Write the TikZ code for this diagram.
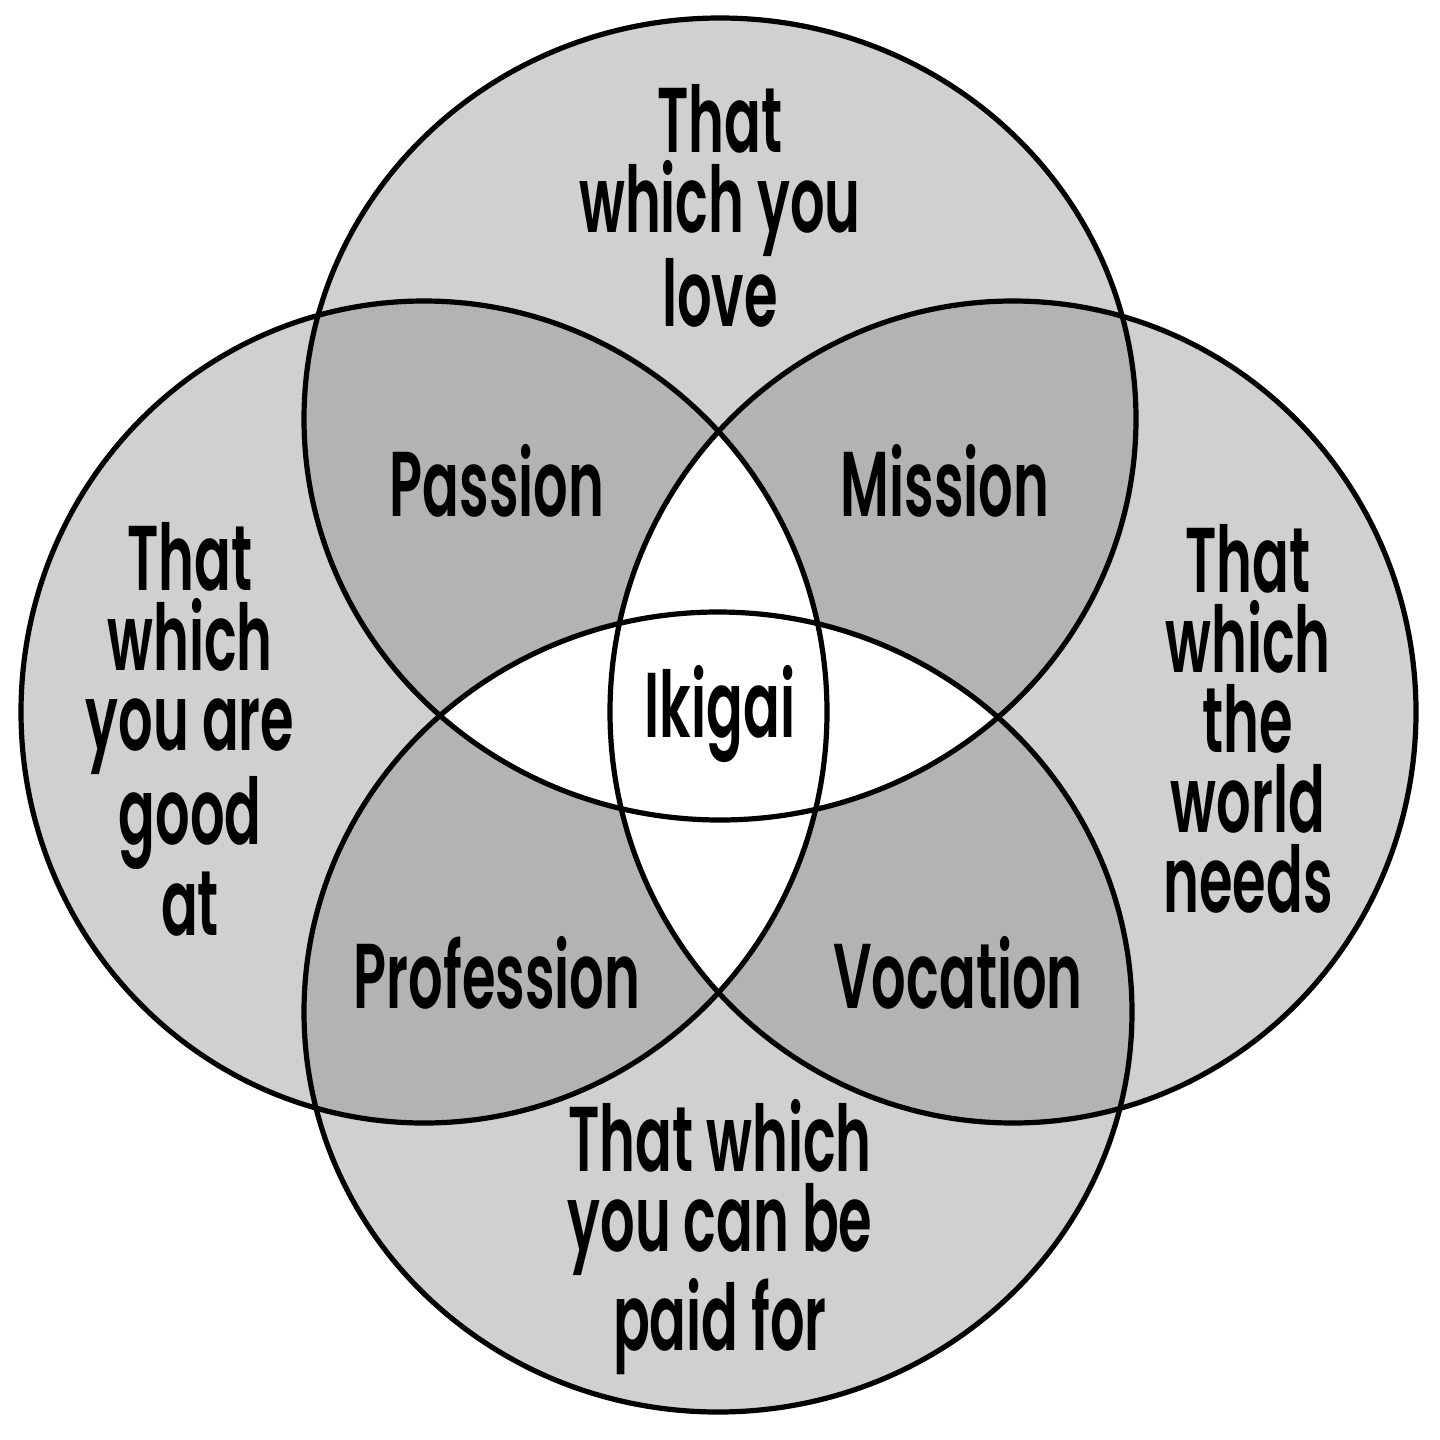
\documentclass[tikz,border=0pt]{standalone}
\usepackage{fontspec}
\newfontfamily\ikf[FakeStretch=0.59,UprightFont=* SemiBold]{Poppins}
\definecolor{lightg}{HTML}{D0D0D0}
\definecolor{darkg}{HTML}{B3B3B3}
\begin{document}
\begin{tikzpicture}[x=0.5pt,y=-0.5pt,
  ring/.style={draw=black,line width=2.6pt},
  lbl/.style={font=\ikf\fontsize{46}{40}\selectfont,align=center,inner sep=0pt,text=black}]
\def\pT{(720,419) ellipse [x radius=416, y radius=401]}
\def\pB{(718,1012) ellipse [x radius=414, y radius=400]}
\def\pL{(424,712) ellipse [x radius=403, y radius=411]}
\def\pR{(1013,712) ellipse [x radius=403, y radius=411]}
\fill[white] (0,0) rectangle (1440,1440);
\useasboundingbox (0,0) rectangle (1440,1440);
% single circles
\fill[lightg] \pT; \fill[lightg] \pB; \fill[lightg] \pL; \fill[lightg] \pR;
% adjacent pairs
\begin{scope}\clip \pT; \fill[darkg] \pL; \end{scope}
\begin{scope}\clip \pT; \fill[darkg] \pR; \end{scope}
\begin{scope}\clip \pB; \fill[darkg] \pL; \end{scope}
\begin{scope}\clip \pB; \fill[darkg] \pR; \end{scope}
% opposite pairs
\begin{scope}\clip \pT; \fill[white] \pB; \end{scope}
\begin{scope}\clip \pL; \fill[white] \pR; \end{scope}
% outlines
\draw[ring] \pT; \draw[ring] \pB; \draw[ring] \pL; \draw[ring] \pR;
% texts
\node[lbl] (love) at (720,206) {That\\which you\\love};
\node[lbl] (good) at (190,729) {That\\which\\you are\\good\\at};
\node[lbl] (needs) at (1248,719) {That\\which\\the\\world\\needs};
\node[lbl] (paid) at (720,1237) {That which\\you can be\\paid for};
\node[lbl] (passion) at (497,481) {Passion};
\node[lbl] (mission) at (945,481) {Mission};
\node[lbl] (profession) at (497,973) {Profession};
\node[lbl] (vocation) at (958,973) {Vocation};
\node[lbl] (ikigai) at (720,714) {Ikigai};
\end{tikzpicture}
\end{document}
